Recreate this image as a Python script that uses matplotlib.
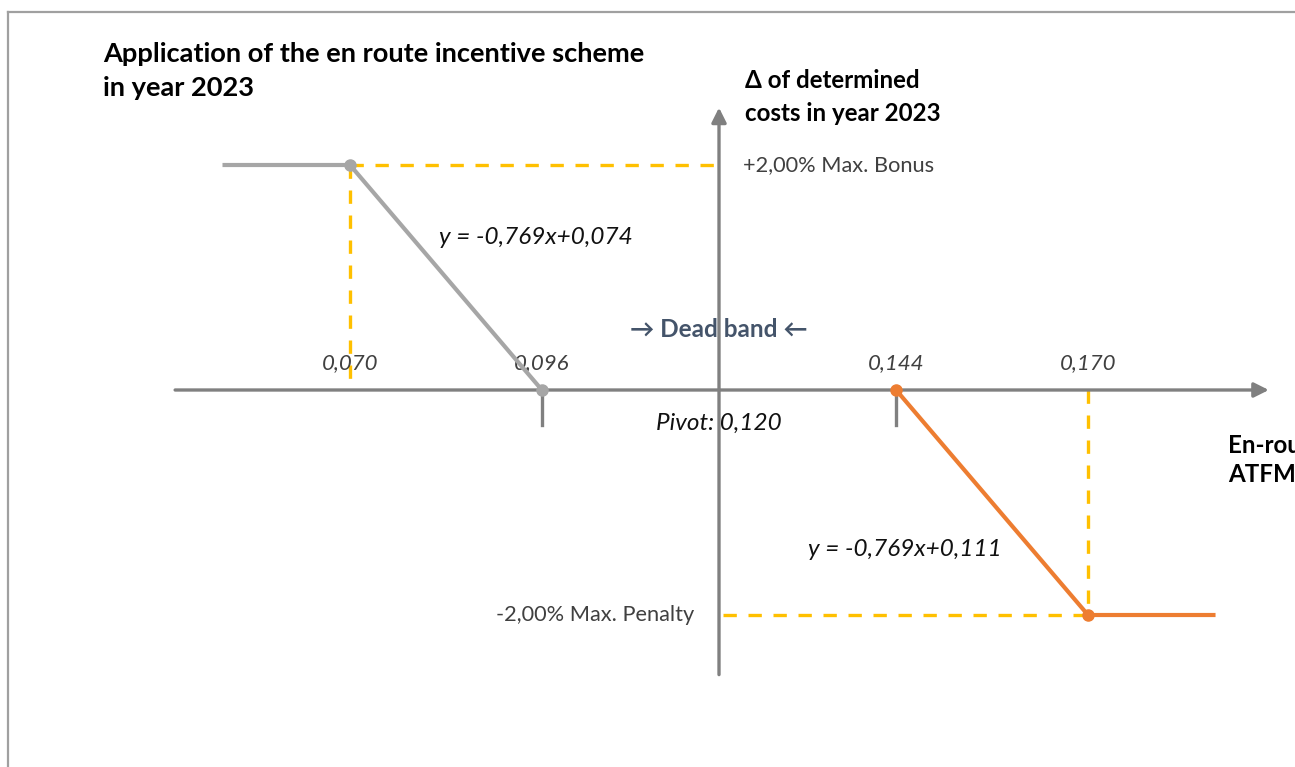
import matplotlib
matplotlib.use('Agg')
from matplotlib import pyplot as plt
from matplotlib.lines import Line2D

plt.rcParams['font.family'] = ['Lato', 'DejaVu Sans']

# scheme parameters
pivot = 0.120
bonus_x = [0.053, 0.070, 0.096]
bonus_y = [0.02, 0.02, 0.0]
penalty_x = [0.144, 0.170, 0.187]
penalty_y = [0.0, -0.02, -0.02]
tick_values = [0.070, 0.096, 0.144, 0.170]
tick_labels = ['0,070', '0,096', '0,144', '0,170']
max_bonus = 0.02
max_penalty = -0.02
eq_bonus = 'y = -0,769x+0,074'
eq_penalty = 'y = -0,769x+0,111'

W, H = 1295, 767
fig = plt.figure(figsize=(W / 100, H / 100), dpi=100)
ax = fig.add_axes([0, 0, 1, 1])
ax.set_xlim(0.02257, 0.19805)
ax.set_ylim(-0.033511, 0.034667)
ax.axis('off')

# frame around the slide (only left and top visible)
fig.add_artist(Line2D([8 / W, 8 / W], [0, 1 - 12 / H], color='#a0a0a0', lw=1.6,
                      transform=fig.transFigure))
fig.add_artist(Line2D([8 / W, 1], [1 - 12 / H, 1 - 12 / H], color='#a0a0a0', lw=1.6,
                      transform=fig.transFigure))

axis_gray = '#808080'
yellow = '#ffc000'
orange = '#ed7d31'
light_gray = '#a6a6a6'
txt_gray = '#404040'

# yellow dashed guides
dash = dict(color=yellow, lw=2.4, dashes=(4, 3.5), zorder=2)
ax.plot([bonus_x[1], pivot], [max_bonus, max_bonus], **dash)
ax.plot([bonus_x[1], bonus_x[1]], [max_bonus, 0], **dash)
ax.plot([pivot + 0.0005, penalty_x[1]], [max_penalty, max_penalty], **dash)
ax.plot([penalty_x[1], penalty_x[1]], [0, max_penalty], **dash)

# axes with arrow heads
ax.annotate('', xy=(0.1945, 0), xytext=(0.0463, 0),
            arrowprops=dict(arrowstyle='-|>', color=axis_gray, lw=2.4,
                            mutation_scale=22, shrinkA=0, shrinkB=0), zorder=3)
ax.annotate('', xy=(pivot, 0.0251), xytext=(pivot, -0.0253),
            arrowprops=dict(arrowstyle='-|>', color=axis_gray, lw=2.4,
                            mutation_scale=22, shrinkA=0, shrinkB=0), zorder=3)

# small ticks under dead band limits
for xv in [bonus_x[2], penalty_x[0]]:
    ax.plot([xv, xv], [0, -0.0031], color=axis_gray, lw=2.4, zorder=3)

# incentive lines
ax.plot(bonus_x, bonus_y, color=light_gray, lw=3, zorder=4)
ax.plot(bonus_x[1:], bonus_y[1:], 'o', color=light_gray, ms=8, zorder=5)
ax.plot(penalty_x, penalty_y, color=orange, lw=3, zorder=4)
ax.plot(penalty_x[:2], penalty_y[:2], 'o', color=orange, ms=8, zorder=5)

# tick labels
for xv, lab in zip(tick_values, tick_labels):
    ax.text(xv, 0.0024, lab, ha='center', va='center', fontsize=16,
            style='italic', color=txt_gray)

ax.text(pivot, -0.0030, 'Pivot: 0,120', ha='center', va='center', fontsize=17.5,
        style='italic', color='#111111')
ax.text(pivot, 0.00535, '\u2192 Dead band \u2190', ha='center', va='center',
        fontsize=17.5, fontweight='bold', color='#44546a', zorder=1)

ax.text(0.1233, max_bonus, '+2,00% Max. Bonus', ha='left', va='center',
        fontsize=15.7, color=txt_gray)
ax.text(0.1167, max_penalty, '-2,00% Max. Penalty', ha='right', va='center',
        fontsize=15.7, color=txt_gray)

ax.text(0.0952, 0.01356, eq_bonus, ha='center', va='center', fontsize=17.5,
        style='italic', color='#111111')
ax.text(0.1452, -0.0142, eq_penalty, ha='center', va='center', fontsize=17.5,
        style='italic', color='#111111')

# titles
fig.text(103 / W, 1 - 71 / H, 'Application of the en route incentive scheme\nin year 2023',
         ha='left', va='center', fontsize=19.6, fontweight='bold', color='black',
         linespacing=1.55)
fig.text(745 / W, 1 - 97 / H, '\u0394 of determined\ncosts in year 2023', ha='left',
         va='center', fontsize=17.4, fontweight='bold', color='black', linespacing=1.5)
fig.text(1228 / W, 1 - 460 / H, 'En-route\nATFM delay', ha='left', va='center',
         fontsize=17.4, fontweight='bold', color='black', linespacing=1.35)

fig.savefig('out.png', dpi=100, facecolor='white')
